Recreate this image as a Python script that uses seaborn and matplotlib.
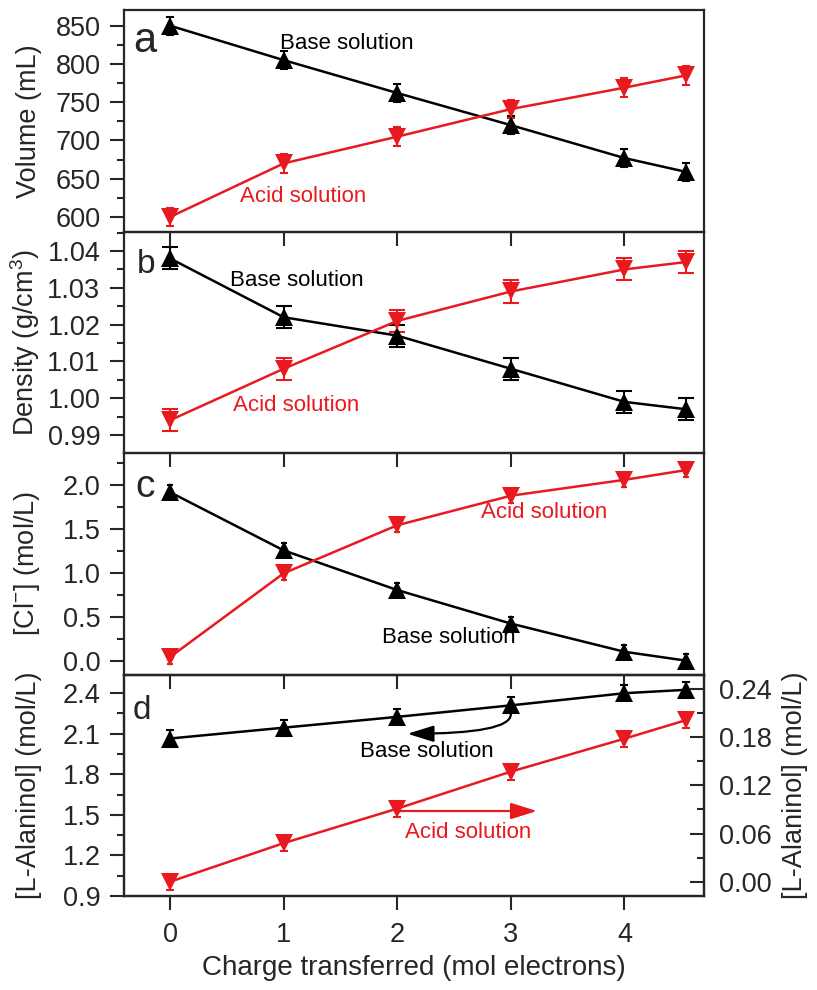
import matplotlib
matplotlib.use("Agg")
import matplotlib.pyplot as plt
from matplotlib.ticker import MultipleLocator, FormatStrFormatter
import seaborn as sns

# ---- data ----
charge = [0, 1, 2, 3, 4, 4.54]

vol_base = [850, 805, 762, 720, 677, 659]
vol_acid = [600, 670, 705, 741, 769, 785]
vol_err = [12, 12, 12, 12, 12, 12]

dens_base = [1.038, 1.022, 1.017, 1.008, 0.999, 0.997]
dens_acid = [0.994, 1.008, 1.021, 1.029, 1.035, 1.037]
dens_err = [0.003, 0.003, 0.003, 0.003, 0.003, 0.003]

cl_base = [1.92, 1.26, 0.81, 0.43, 0.11, 0.01]
cl_acid = [0.05, 1.00, 1.545, 1.88, 2.06, 2.17]
cl_err = [0.08, 0.08, 0.08, 0.08, 0.08, 0.08]

ala_base = [2.065, 2.145, 2.225, 2.31, 2.40, 2.425]
ala_acid = [0.0, 0.048, 0.091, 0.137, 0.178, 0.201]
ala_base_err = [0.06, 0.06, 0.06, 0.06, 0.06, 0.06]
ala_acid_err = [0.01, 0.01, 0.01, 0.01, 0.01, 0.01]

x_ticks = [0, 1, 2, 3, 4]

RED = "#E8191F"
BLACK = "#000000"

sns.set_style("ticks")
plt.rcParams["font.family"] = ["Liberation Sans", "DejaVu Sans"]
plt.rcParams["mathtext.fontset"] = "custom"
plt.rcParams["mathtext.rm"] = "Liberation Sans"
plt.rcParams["mathtext.it"] = "Liberation Sans"

fig, axes = plt.subplots(4, 1, figsize=(8.17, 9.9), dpi=100, sharex=True)
fig.subplots_adjust(left=0.1518, right=0.8617, bottom=0.0949, top=0.9899, hspace=0)

TICK = 19.5
LAB = 19.5
ANN = 16
MS = 13.5
LW = 1.8


def draw(ax, y, err, color, marker, capsize):
    ax.errorbar(charge, y, yerr=err, fmt="none", ecolor=color, elinewidth=1.5,
                capsize=capsize, capthick=1.5, zorder=2)
    sns.lineplot(x=charge, y=y, ax=ax, color=color, marker=marker, markersize=MS,
                 markeredgewidth=0, linewidth=LW, zorder=3)


def style(ax):
    ax.set_facecolor("none")
    for s in ax.spines.values():
        s.set_linewidth(1.6)
        s.set_visible(True)
    ax.tick_params(axis="y", which="major", direction="out", length=10, width=1.5,
                   labelsize=TICK, pad=7)
    ax.tick_params(axis="x", which="major", direction="out", length=10, width=1.5,
                   labelsize=TICK, pad=9)
    ax.tick_params(axis="y", which="minor", direction="out", length=5, width=1.5)
    ax.tick_params(axis="x", which="minor", length=0)
    ax.set_xlim(-0.405, 4.70)
    ax.set_xticks(x_ticks)


# panel a
ax = axes[0]
draw(ax, vol_base, vol_err, BLACK, "^", 3)
draw(ax, vol_acid, vol_err, RED, "v", 3)
style(ax)
ax.set_ylim(581, 870.5)
ax.yaxis.set_major_locator(MultipleLocator(50))
ax.yaxis.set_minor_locator(MultipleLocator(25))
ax.set_ylabel("Volume (mL)", fontsize=LAB)
ax.text(0.97, 827, "Base solution", color=BLACK, fontsize=ANN, ha="left", va="center")
ax.text(0.62, 627, "Acid solution", color=RED, fontsize=ANN, ha="left", va="center")
ax.text(0.0155, 0.81, "a", transform=ax.transAxes, fontsize=30, ha="left", va="baseline")

# panel b
ax = axes[1]
draw(ax, dens_base, dens_err, BLACK, "^", 5.5)
draw(ax, dens_acid, dens_err, RED, "v", 5.5)
style(ax)
ax.set_ylim(0.9851, 1.0453)
ax.yaxis.set_major_locator(MultipleLocator(0.01))
ax.yaxis.set_minor_locator(MultipleLocator(0.005))
ax.yaxis.set_major_formatter(FormatStrFormatter("%.2f"))
ax.set_ylabel("Density (g/cm$^3$)", fontsize=LAB)
ax.text(0.53, 1.032, "Base solution", color=BLACK, fontsize=ANN, ha="left", va="center")
ax.text(0.55, 0.998, "Acid solution", color=RED, fontsize=ANN, ha="left", va="center")
ax.text(0.022, 0.811, "b", transform=ax.transAxes, fontsize=24, ha="left", va="baseline")

# panel c
ax = axes[2]
draw(ax, cl_base, cl_err, BLACK, "^", 2)
draw(ax, cl_acid, cl_err, RED, "v", 2)
style(ax)
ax.set_ylim(-0.148, 2.364)
ax.yaxis.set_major_locator(MultipleLocator(0.5))
ax.yaxis.set_minor_locator(MultipleLocator(0.25))
ax.yaxis.set_major_formatter(FormatStrFormatter("%.1f"))
ax.set_ylabel("[Cl$^{-}$] (mol/L)", fontsize=LAB)
ax.text(2.74, 1.69, "Acid solution", color=RED, fontsize=ANN, ha="left", va="center")
ax.text(1.87, 0.27, "Base solution", color=BLACK, fontsize=ANN, ha="left", va="center")
ax.text(0.019, 0.80, "c", transform=ax.transAxes, fontsize=28, ha="left", va="baseline")

# panel d
ax = axes[3]
ax2 = ax.twinx()
draw(ax, ala_base, ala_base_err, BLACK, "^", 3)
draw(ax2, ala_acid, ala_acid_err, RED, "v", 3)
style(ax)
ax.set_ylim(0.9, 2.538)
ax.yaxis.set_major_locator(MultipleLocator(0.3))
ax.yaxis.set_minor_locator(MultipleLocator(0.15))
ax.yaxis.set_major_formatter(FormatStrFormatter("%.1f"))
ax.set_ylabel("[L-Alaninol] (mol/L)", fontsize=LAB)
ax.set_xlabel("Charge transferred (mol electrons)", fontsize=20, labelpad=5)
ax.set_xticklabels([str(t) for t in x_ticks])

ax2.set_facecolor("none")
for s in ax2.spines.values():
    s.set_linewidth(1.6)
ax2.set_ylim(-0.0178, 0.2578)
ax2.yaxis.set_major_locator(MultipleLocator(0.06))
ax2.yaxis.set_minor_locator(MultipleLocator(0.03))
ax2.yaxis.set_major_formatter(FormatStrFormatter("%.2f"))
ax2.tick_params(axis="y", which="major", direction="in", length=10, width=1.5,
                labelsize=TICK, pad=11)
ax2.tick_params(axis="y", which="minor", direction="in", length=5, width=1.5)
ax2.set_ylabel("[L-Alaninol] (mol/L)", fontsize=LAB)
ax2.yaxis.set_label_coords(1.134, 0.5)
ax2.set_xlim(-0.405, 4.70)

ax.text(1.67, 1.97, "Base solution", color=BLACK, fontsize=ANN, ha="left", va="center")
ax.text(2.07, 1.373, "Acid solution", color=RED, fontsize=ANN, ha="left", va="center")
ax.text(0.0155, 0.80, "d", transform=ax.transAxes, fontsize=24, ha="left", va="baseline")

ax.annotate("", xy=(2.09, 2.10), xytext=(3.0, 2.245),
            arrowprops=dict(arrowstyle="-|>,head_length=0.8,head_width=0.25",
                            mutation_scale=20, color=BLACK, lw=1.6,
                            shrinkA=0, shrinkB=0,
                            connectionstyle="angle3,angleA=90,angleB=0"))
ax2.annotate("", xy=(3.23, 0.088), xytext=(2.0, 0.088),
             arrowprops=dict(arrowstyle="-|>,head_length=0.8,head_width=0.25",
                             mutation_scale=20, color=RED, lw=1.6,
                             shrinkA=0, shrinkB=0))

for a in axes:
    a.yaxis.set_label_coords(-0.141, 0.5)

fig.savefig("out.png", dpi=100, facecolor="white")
